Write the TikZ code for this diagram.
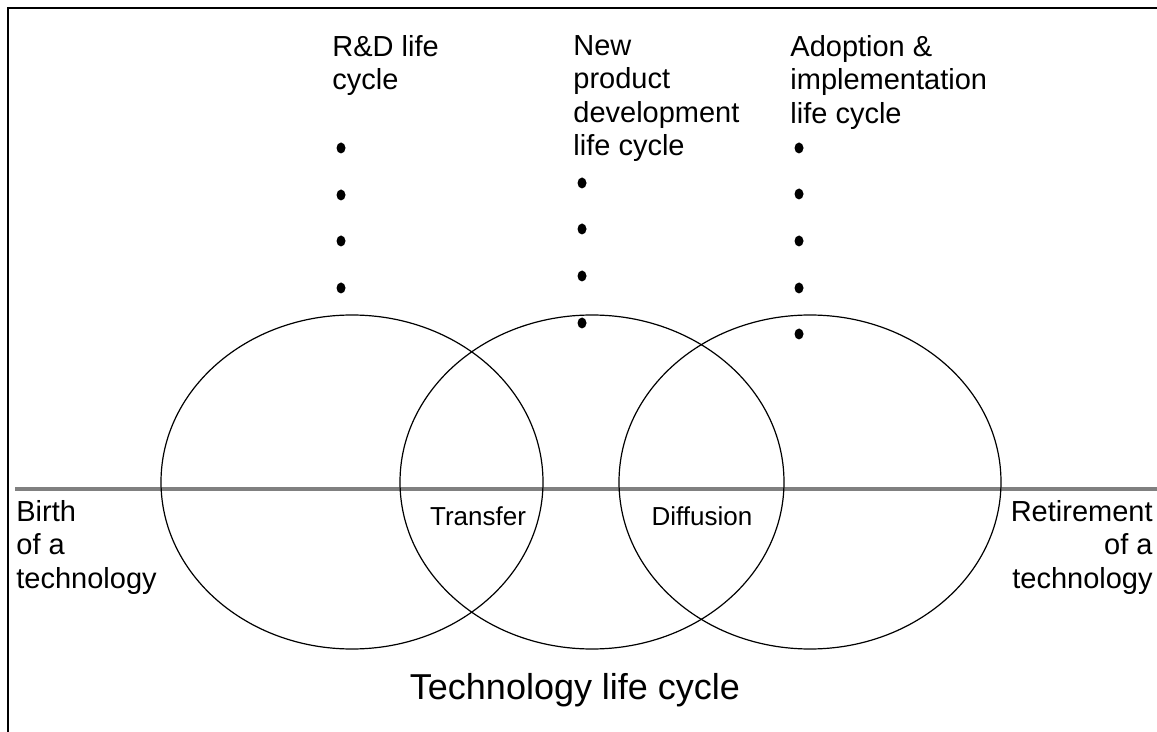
\documentclass[tikz,border=0pt]{standalone}
\usepackage{fontspec}
\setmainfont{Liberation Sans}
\usepackage{tikz}

\begin{document}
\begin{tikzpicture}[x=0.5pt,y=-0.5pt,
  lbl/.style={inner sep=0pt,font=\fontsize{14.5}{16.75}\selectfont},
  small/.style={inner sep=0pt,font=\fontsize{13}{15}\selectfont},
  ring/.style={line width=0.6pt},
  dot/.style={fill=black}]
  \useasboundingbox (0,0) rectangle (1157,732);
  % frame
  \draw[line width=1.2pt] (7,8) -- (1157,8);
  \draw[line width=1pt] (8,8) -- (8,732);
  % time line
  \draw[line width=2pt,gray] (15,489) -- (1157,489);

  % the three life cycles
  \draw[ring] (352,482) ellipse [x radius=191,y radius=167];
  \draw[ring] (592,482) ellipse [x radius=192,y radius=167];
  \draw[ring] (810,482) ellipse [x radius=191,y radius=167];

  \node[lbl,anchor=north west,align=left] (rd) at (332,35) {R\&D life\\cycle};
  \node[lbl,anchor=north west,align=left] (npd) at (573,35) {New\\product\\development\\life cycle};
  \node[lbl,anchor=north west,align=left] (adopt) at (790,35) {Adoption \&\\implementation\\life cycle};

  \foreach \y in {148,195,241,288} \fill[dot] (341,\y) ellipse [x radius=4.5,y radius=5.5];
  \foreach \y in {183,229,276,323} \fill[dot] (582,\y) ellipse [x radius=4.5,y radius=5.5];
  \foreach \y in {148,194,241,288,334} \fill[dot] (799,\y) ellipse [x radius=4.5,y radius=5.5];

  \node[small] (transfer) at (478,516) {Transfer};
  \node[small] (diffusion) at (702,516) {Diffusion};

  \node[lbl,anchor=north west,align=left] (birth) at (16,500) {Birth\\of a\\technology};
  \node[lbl,anchor=north east,align=right] (retire) at (1153,500) {Retirement\\of a\\technology};

  \node[inner sep=0pt,anchor=base,font=\fontsize{18}{22}\selectfont] (tlc) at (575,699) {Technology life cycle};
\end{tikzpicture}
\end{document}
